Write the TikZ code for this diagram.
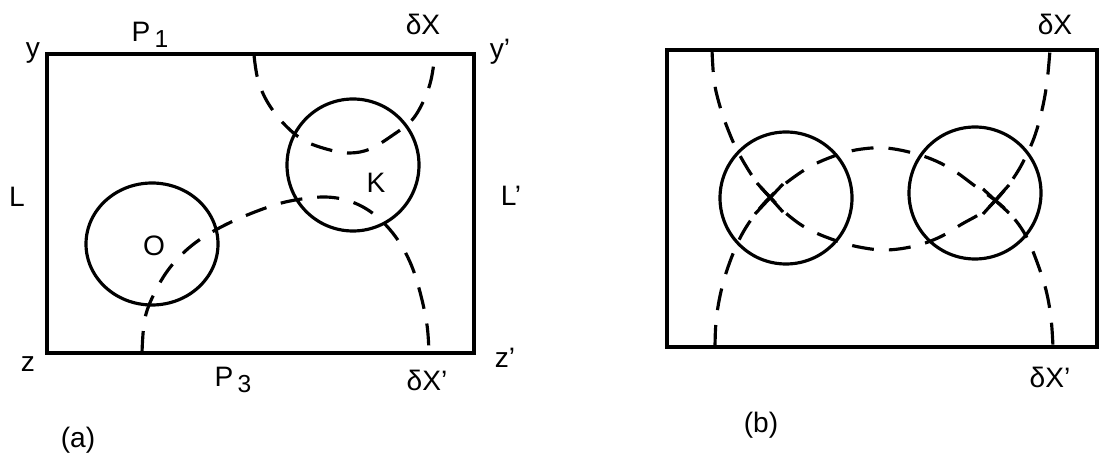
\documentclass[tikz,border=0pt]{standalone}
\usepackage{fontspec}
\setmainfont{Liberation Sans}
\usetikzlibrary{positioning}

\newcommand{\sub}[1]{\raisebox{-0.4ex}{\fontsize{14}{16}\selectfont\,#1}}

\begin{document}
\begin{tikzpicture}[
    x=0.02cm, y=-0.02cm,
    frame/.style={line width=1.9pt},
    ring/.style={line width=1.8pt},
    dashline/.style={line width=1.8pt, dash pattern=on 0.44cm off 0.3cm},
    crossing/.style={line width=1.8pt},
    lbl/.style={font=\fontsize{16}{19}\selectfont, inner sep=0pt}
]
    \useasboundingbox (0,0) rectangle (1099,459);

    % (a)
    \coordinate (ya) at (47,54);
    \coordinate (za) at (474,353);
    \draw[frame] (ya) rectangle (za);
    \draw[ring] (353,165) circle[radius=66];
    \draw[ring] (152,244) ellipse[x radius=66, y radius=61];
    \draw[dashline] plot[smooth, tension=0.6] coordinates {(254,55) (258,80) (268,103) (285,125)
        (305,141) (330,150) (350,153) (370,149) (393,135) (412,120) (424,100) (431,80) (435,55)};
    \draw[dashline] plot[smooth, tension=0.6] coordinates {(142,353) (145,318) (156,290) (172,265)
        (195,243) (225,225) (260,210) (290,201) (325,197) (352,202) (375,215) (395,236)
        (410,262) (420,292) (427,325) (429,353)};

    \node[lbl] (y)  at (33,53)  {y};
    \node[lbl] (p1) at (150,35) {P\sub{1}};
    \node[lbl] (dxa) at (423,24) {δX};
    \node[lbl] (y2) at (500,52) {y'};
    \node[lbl] (l)  at (17,197) {L};
    \node[lbl] (l2) at (511,196) {L'};
    \node[lbl] (o)  at (154,246) {O};
    \node[lbl] (k)  at (376,183) {K};
    \node[lbl] (z)  at (28,364) {z};
    \node[lbl] (p3) at (233,380) {P\sub{3}};
    \node[lbl] (dxa2) at (427,380) {δX'};
    \node[lbl] (z2) at (505,358) {z'};
    \node[lbl] (a)  at (78,440) {(a)};

    % (b)
    \coordinate (yb) at (667,50);
    \coordinate (zb) at (1097,347);
    \draw[frame] (yb) rectangle (zb);
    \draw[ring] (786,198) circle[radius=66];
    \draw[ring] (975,193) circle[radius=66];
    \draw[dashline] plot[smooth, tension=0.6] coordinates {(712,50) (714,80) (719,103) (727,127)
        (738,152) (755,180) (770,197) (788,215) (808,229) (834,240) (859,247) (886,250)
        (915,246) (940,237) (962,224) (983,212) (996,200) (1010,183) (1022,164)
        (1034,138) (1042,110) (1047,82) (1050,50)};
    \draw[dashline] plot[smooth, tension=0.6] coordinates {(715,347) (716,322) (720,296) (727,270)
        (739,240) (753,217) (770,197) (790,180) (813,165) (840,154) (862,149) (886,148)
        (913,153) (936,161) (956,172) (975,186) (996,201) (1012,216) (1026,236) (1037,262)
        (1046,290) (1051,318) (1053,347)};
    \draw[crossing] (757,183) -- (783,212);
    \draw[crossing] (755,214) -- (783,184);
    \draw[crossing] (983,189) -- (1009,213);
    \draw[crossing] (983,214) -- (1009,185);

    \node[lbl] (dxb)  at (1055,24) {δX};
    \node[lbl] (dxb2) at (1050,377) {δX'};
    \node[lbl] (b)    at (761,425) {(b)};
\end{tikzpicture}
\end{document}
